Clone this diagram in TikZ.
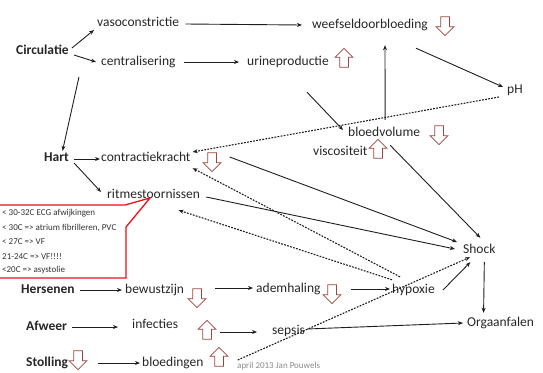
\documentclass[tikz,border=0pt]{standalone}
\usepackage{fontspec}
\setmainfont{Carlito}
\usetikzlibrary{arrows.meta,calc,shapes.arrows}
\definecolor{txt}{HTML}{262626}
\definecolor{ln}{HTML}{1E1E1E}
\definecolor{harr}{HTML}{9C4540}
\definecolor{boxred}{HTML}{E8101A}
\definecolor{boxtxt}{HTML}{333333}
\definecolor{foot}{HTML}{8A8A8A}
\begin{document}
\begin{tikzpicture}[x=1pt,y=-1pt,
  lbl/.style={anchor=west,inner sep=0pt,text height=9pt,text depth=3pt,font=\fontsize{13.5}{14}\selectfont,text=txt},
  blbl/.style={lbl,font=\fontsize{13.5}{14}\selectfont\bfseries},
  con/.style={draw=ln,line width=0.9pt,-{Stealth[length=5pt,width=4pt]}},
  dcon/.style={con,dash pattern=on 1.8pt off 1.3pt,line width=1.1pt},
  hollow/.style={single arrow,draw=harr,fill=white,line width=0.75pt,inner sep=4pt,minimum height=19pt,single arrow head extend=4.5pt,single arrow head indent=0pt,anchor=center},
  dnarr/.style={hollow,rotate=-90},
  uparr/.style={hollow,rotate=90},
  boxt/.style={anchor=west,inner sep=0pt,font=\fontsize{9}{10}\selectfont,text=boxtxt}
]
\useasboundingbox (0,0) rectangle (543,372);

% labels
\node[blbl] (circ) at (16,51) {Circulatie};
\node[lbl] (vaso) at (97,24) {vasoconstrictie};
\node[lbl] (centr) at (101,62) {centralisering};
\node[lbl] (urine) at (247,62) {urineproductie};
\node[lbl] (weef) at (312,25) {weefseldoorbloeding};
\node[lbl] (ph) at (507,90) {pH};
\node[lbl] (bloed) at (348,133) {bloedvolume};
\node[lbl] (visc) at (313,152) {viscositeit};
\node[blbl] (hart) at (44,158) {Hart};
\node[lbl] (contr) at (101,158) {contractiekracht};
\node[lbl] (ritme) at (107,195) {ritmestoornissen};
\node[blbl] (hers) at (21,290) {Hersenen};
\node[lbl] (bew) at (125,290) {bewustzijn};
\node[lbl] (adem) at (256,289) {ademhaling};
\node[lbl] (hyp) at (392,290) {hypoxie};
\node[lbl] (shock) at (463,250) {Shock};
\node[lbl] (organ) at (467,323) {Orgaanfalen};
\node[lbl] (sepsis) at (272,331) {sepsis};
\node[blbl] (afweer) at (26,327) {Afweer};
\node[lbl] (infec) at (132,325) {infecties};
\node[blbl] (stol) at (26,363) {Stolling};
\node[lbl] (bloedi) at (142,363) {bloedingen};
\node[anchor=west,inner sep=0pt,font=\fontsize{9}{10}\selectfont,text=foot] (footer) at (237,366) {april 2013 Jan Pouwels};

% callout
\draw[boxred,line width=1.3pt,line join=miter] (0,205) -- (125,205) -- (150,198) -- (126,227) -- (126,278) -- (0,278);
\node[boxt] (b1) at (2,213) {< 30-32C ECG afwijkingen};
\node[boxt] (b2) at (2,228) {< 30C => atrium fibrilleren, PVC};
\node[boxt] (b3) at (2,242) {< 27C => VF};
\node[boxt] (b4) at (2,256) {21-24C => VF!!!!};
\node[boxt] (b5) at (2,270) {<20C => asystolie};

% connectors
\draw[con] ($(circ.east)+(3,-3)$) -- ($(vaso.west)+(-3,6)$);
\draw[con] ($(circ.east)+(5,4)$) -- ($(centr.west)+(-5,0)$);
\draw[con] ($(circ.south east)+(10,20)$) -- ($(hart.north)+(6,-1)$);
\draw[con] ($(vaso.east)+(6,0)$) -- ($(weef.west)+(-10,0)$);
\draw[con] ($(centr.east)+(8,0)$) -- ($(urine.west)+(-8,0)$);
\draw[con] ($(weef.south east)+(-12,17)$) -- ($(ph.west)+(-4,-3)$);
\draw[con] ($(urine.south)+(19,24)$) -- ($(bloed.west)+(-5,-3)$);
\draw[con] ($(bloed.north)+(1,-7)$) -- ($(weef.south)+(15,14)$);
\draw[con] ($(hart.east)+(5,1)$) -- ($(contr.west)+(-1,1)$);
\draw[con] ($(hart.east)+(5,5)$) -- ($(ritme.west)+(-6,-3)$);
\draw[con] ($(contr.east)+(39,-1)$) -- ($(shock.west)+(-6,-8)$);
\draw[con] ($(ritme.east)+(6,2)$) -- ($(shock.west)+(-8,-1)$);
\draw[con] ($(bloed.south)+(6,6)$) -- ($(shock.north)+(1,-6)$);
\draw[con] ($(hers.east)+(5,0)$) -- ($(bew.west)+(-3,0)$);
\draw[con] ($(bew.east)+(31,-2)$) -- ($(adem.west)+(-3,-1)$);
\draw[con] ($(adem.east)+(30,0)$) -- ($(hyp.west)+(-2,-1)$);
\draw[con] ($(hyp.east)+(8,0)$) -- ($(shock.south)+(-9,6)$);
\draw[con] ($(afweer.east)+(5,0)$) -- ($(infec.west)+(-14,2)$);
\draw[con] ($(infec.east)+(42,7)$) -- ($(sepsis.west)+(-15,1)$);
\draw[con] ($(sepsis.east)+(2,-2)$) -- ($(organ.west)+(-4,0)$);
\draw[con] ($(shock.south)+(5,6)$) -- ($(organ.north)+(-17,-4)$);
\draw[con] ($(stol.east)+(30,0)$) -- ($(bloedi.west)+(-2,0)$);

\draw[dcon] ($(ph.west)+(-8,7)$) -- ($(contr.east)+(2,-6)$);
\draw[dcon] ($(hyp.north west)+(8,-7)$) -- ($(contr.south east)+(2,4)$);
\draw[dcon] ($(hyp.north west)+(0,-4)$) -- ($(ritme.south)+(25,9)$);
\draw[dcon] ($(bloedi.east)+(34,-3)$) -- ($(shock.south west)+(7,1)$);

% hollow arrows
\node[dnarr] (a1) at (445,24) {};
\node[uparr] (a2) at (344,60) {};
\node[dnarr] (a3) at (439,133) {};
\node[uparr] (a4) at (378,151) {};
\node[dnarr] (a5) at (212,160) {};
\node[dnarr] (a6) at (197,296) {};
\node[dnarr] (a7) at (332,292) {};
\node[uparr] (a8) at (207,332) {};
\node[dnarr] (a9) at (78,358) {};
\node[uparr] (a10) at (219,359) {};
\end{tikzpicture}
\end{document}
